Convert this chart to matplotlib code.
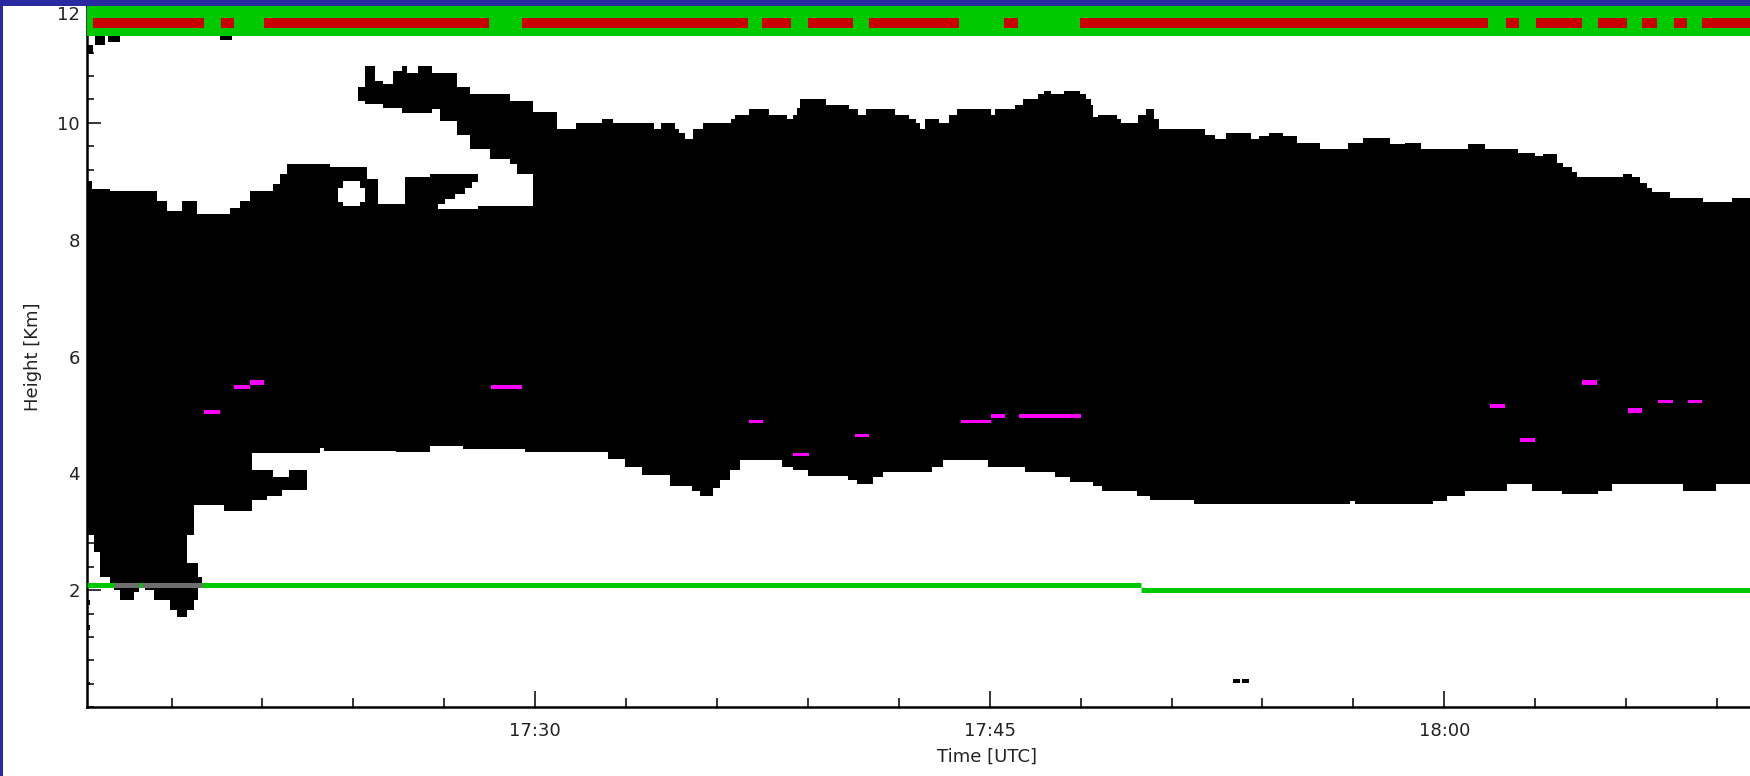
import numpy as np
import matplotlib.pyplot as plt
from matplotlib.patches import Rectangle
from matplotlib.ticker import FixedLocator, MultipleLocator, FuncFormatter

# time axis: minutes after 17:00 UTC, heights in km
t_start, t_end = 15.21, 70.75

# main cloud body: top and base heights (step profiles)
top_t = [15.21, 15.38, 15.97, 17.52, 17.85, 18.35, 18.84, 19.93, 20.26, 20.59,
         21.35, 21.58, 21.82, 23.23, 24.46, 24.82, 25.71, 26.53, 28.12, 29.93,
         30.73, 31.35, 32.21, 32.57, 33.93, 34.16, 34.62, 34.75, 34.95, 35.21,
         35.54, 36.47, 36.60, 37.06, 37.72, 38.32, 38.51, 38.65, 38.75, 39.60,
         40.36, 40.66, 40.92, 41.88, 42.34, 42.57, 42.71, 42.87, 43.33, 43.66,
         43.93, 45.05, 45.18, 45.84, 46.11, 46.60, 46.80, 47.03, 47.46, 47.99,
         48.18, 48.35, 48.42, 48.58, 49.21, 49.34, 49.90, 50.17, 50.43, 50.59,
         52.11, 52.44, 52.81, 53.63, 53.89, 54.22, 54.69, 55.15, 55.91, 56.83,
         57.33, 58.22, 58.71, 59.24, 60.79, 61.35, 62.44, 63.00, 63.27, 63.73,
         63.93, 64.22, 64.39, 65.91, 66.20, 66.47, 66.70, 66.86, 67.46, 68.55,
         69.50]
top_km = [9.00, 8.86, 8.83, 8.66, 8.49, 8.66, 8.44, 8.54, 8.66, 8.83,
          8.95, 9.12, 9.29, 9.24, 9.04, 8.61, 9.07, 9.12, 8.57, 10.18,
          9.90, 10.00, 10.07, 10.00, 9.89, 10.00, 9.89, 9.83, 9.72, 9.89,
          10.00, 10.06, 10.14, 10.24, 10.14, 10.07, 10.14, 10.26, 10.41, 10.31,
          10.24, 10.14, 10.24, 10.14, 10.07, 10.00, 9.90, 10.07, 10.00, 10.14,
          10.24, 10.14, 10.24, 10.31, 10.41, 10.49, 10.54, 10.49, 10.54, 10.49,
          10.41, 10.30, 10.10, 10.14, 10.07, 10.00, 10.14, 10.24, 10.07, 9.90,
          9.80, 9.72, 9.83, 9.72, 9.77, 9.83, 9.77, 9.66, 9.56, 9.66,
          9.74, 9.63, 9.65, 9.55, 9.63, 9.55, 9.48, 9.43, 9.46, 9.31,
          9.24, 9.15, 9.07, 9.12, 9.07, 8.97, 8.88, 8.81, 8.71, 8.64,
          8.71]

base_t = [15.21, 15.44, 15.64, 15.97, 18.51, 18.74, 19.74, 20.66, 21.16, 21.66,
          22.48, 22.90, 23.04, 25.41, 26.53, 27.62, 29.67, 32.41, 32.97, 33.53,
          34.46, 35.18, 35.45, 35.87, 36.11, 36.44, 36.77, 38.15, 38.51, 39.01,
          40.33, 40.63, 41.16, 41.49, 43.10, 43.47, 44.95, 46.17, 47.16, 47.66,
          48.42, 48.71, 49.87, 50.30, 51.75, 56.90, 57.06, 59.64, 60.10, 60.69,
          62.08, 62.90, 63.89, 65.08, 65.54, 67.89, 68.98]
base_km = [2.94, 2.65, 2.22, 2.12, 2.94, 3.45, 3.36, 3.54, 3.62, 3.71,
           4.34, 4.44, 4.39, 4.36, 4.46, 4.41, 4.36, 4.25, 4.10, 3.98,
           3.79, 3.69, 3.62, 3.75, 3.88, 4.05, 4.22, 4.10, 4.05, 3.95,
           3.88, 3.81, 3.93, 4.03, 4.10, 4.22, 4.10, 4.03, 3.93, 3.86,
           3.79, 3.69, 3.62, 3.54, 3.47, 3.52, 3.47, 3.52, 3.62, 3.69,
           3.81, 3.69, 3.64, 3.69, 3.81, 3.69, 3.81]

# detached upper layer (17:24 - 17:30)
hook_t = [24.16, 24.39, 24.72, 24.98, 25.31, 25.61, 25.78, 26.14, 26.60, 26.86,
          27.43, 27.85, 28.51, 29.17, 29.41, 29.93]
hook_lo = [10.37, 10.32, 10.32, 10.25, 10.25, 10.16, 10.16, 10.16, 10.23, 10.03,
           9.80, 9.56, 9.38, 9.29, 9.12]
hook_hi = [10.62, 10.98, 10.71, 10.66, 10.88, 10.98, 10.85, 10.98, 10.85, 10.85,
           10.62, 10.49, 10.49, 10.37, 10.37]

# cloud reaching below the boundary layer line
blob_t = [16.10, 16.30, 16.76, 16.93, 17.03, 17.13, 17.43, 17.95, 18.18, 18.51,
          18.74, 18.87, 19.01]
blob_lo = [2.00, 1.83, 1.97, 2.12, 2.05, 2.00, 1.83, 1.66, 1.54, 1.66, 1.83, 2.05]
blob_hi = [2.13, 2.13, 2.13, 2.13, 2.13, 2.13, 2.13, 2.13, 2.13, 2.46, 2.46, 2.22]

# clear gaps inside the cloud
hole_t = [23.50, 23.66, 24.23, 24.39]
hole_lo = [8.64, 8.57, 8.64]
hole_hi = [8.88, 9.00, 8.88]
pocket_t = [26.80, 27.03, 27.36, 27.69, 27.92, 28.12]
pocket_lo = [8.52, 8.52, 8.52, 8.52, 8.52]
pocket_hi = [8.61, 8.69, 8.78, 8.88, 8.98]
bay_t = [20.66, 21.35, 21.88, 22.48]
bay_lo = [4.05, 3.93, 4.05]
bay_hi = [4.34, 4.34, 4.34]

# isolated cloud pixels
speck_t0 = [15.21, 15.21, 15.21, 15.48, 15.91, 15.25, 19.60, 53.04, 53.33]
speck_t1 = [15.31, 15.31, 15.31, 15.81, 16.30, 15.41, 20.00, 53.27, 53.56]
speck_lo = [1.74, 1.32, 0.38, 11.34, 11.38, 11.17, 11.41, 0.41, 0.41]
speck_hi = [1.83, 1.40, 0.43, 11.48, 11.48, 11.34, 11.48, 0.48, 0.48]

# magenta cells
mag_t0 = [19.08, 20.07, 20.59, 28.55, 37.06, 38.51, 40.56, 44.06, 45.05, 45.97,
          61.52, 62.51, 64.55, 66.07, 67.06, 68.05]
mag_t1 = [19.60, 20.59, 21.06, 29.57, 37.52, 39.04, 41.02, 45.05, 45.51, 48.02,
          62.01, 63.00, 65.05, 66.53, 67.56, 68.51]
mag_lo = [5.02, 5.45, 5.52, 5.45, 4.87, 4.29, 4.63, 4.87, 4.94, 4.94,
          5.11, 4.53, 5.52, 5.04, 5.21, 5.21]
mag_hi = [5.09, 5.52, 5.60, 5.52, 4.92, 4.34, 4.68, 4.92, 5.02, 5.02,
          5.19, 4.61, 5.60, 5.11, 5.26, 5.26]

# flag strip on top: green band, red where flagged
flag_lo, flag_hi = 11.48, 12.0
rain_lo, rain_hi = 11.63, 11.80
rain_t0 = [15.41, 19.64, 21.06, 29.57, 37.49, 39.01, 41.02, 45.48, 47.99, 62.05,
           63.04, 65.08, 66.53, 67.59, 68.51]
rain_t1 = [19.08, 20.07, 28.48, 37.03, 38.45, 40.50, 43.99, 45.94, 61.45, 62.48,
           64.55, 66.04, 67.03, 68.02, 70.75]

# boundary layer height line
bl_t = [15.21, 50.0, 70.75]
bl_km = [2.09, 2.00]
gray_t0 = [16.10, 17.03]
gray_t1 = [16.93, 19.01]


def step_at(tb, vals, t):
    idx = np.searchsorted(tb, t, side='right') - 1
    return np.asarray(vals)[np.clip(idx, 0, len(vals) - 1)]


def step_fill(ax, t, lo, hi, color, z):
    lo = np.append(lo, lo[-1])
    hi = np.append(hi, hi[-1])
    ax.fill_between(t, lo, hi, step='post', color=color, lw=0, zorder=z)


fig = plt.figure(figsize=(17.5, 7.76), dpi=100)
ax = fig.add_axes([87 / 1750, 69 / 776, 1683 / 1750, 701 / 776])

# main cloud
grid = np.append(np.union1d(top_t, base_t), t_end)
ax.fill_between(grid, step_at(base_t, base_km, grid), step_at(top_t, top_km, grid),
                step='post', color='black', lw=0, zorder=1)
step_fill(ax, hook_t, hook_lo, hook_hi, 'black', 1)
step_fill(ax, blob_t, blob_lo, blob_hi, 'black', 1)
for t, lo, hi in [(hole_t, hole_lo, hole_hi), (pocket_t, pocket_lo, pocket_hi),
                  (bay_t, bay_lo, bay_hi)]:
    step_fill(ax, t, lo, hi, 'white', 2)

ax.bar(speck_t0, np.subtract(speck_hi, speck_lo), width=np.subtract(speck_t1, speck_t0),
       bottom=speck_lo, align='edge', color='black', lw=0, zorder=2)
ax.bar(mag_t0, np.subtract(mag_hi, mag_lo), width=np.subtract(mag_t1, mag_t0),
       bottom=mag_lo, align='edge', color='#ff00ff', lw=0, zorder=3)

# flag strip
ax.axhspan(flag_lo, flag_hi, color='#00c800', lw=0, zorder=3)
ax.bar(rain_t0, rain_hi - rain_lo, width=np.subtract(rain_t1, rain_t0),
       bottom=rain_lo, align='edge', color='#c80000', lw=0, zorder=4)

# boundary layer line
ax.hlines(bl_km, bl_t[:-1], bl_t[1:], colors='#00c800', lw=3.6, zorder=5)
ax.hlines([bl_km[0]] * len(gray_t0), gray_t0, gray_t1, colors='#6e6e6e', lw=3.6, zorder=6)

ax.set_xlim(t_start, t_end)
ax.set_ylim(0, 12)

ax.xaxis.set_major_locator(FixedLocator([30, 45, 60]))
ax.xaxis.set_minor_locator(MultipleLocator(3))
ax.xaxis.set_major_formatter(FuncFormatter(
    lambda m, p: f"{17 + int(round(m)) // 60}:{int(round(m)) % 60:02d}"))
ax.yaxis.set_major_locator(FixedLocator([2, 4, 6, 8, 10, 12]))
ax.yaxis.set_minor_locator(MultipleLocator(0.4))

ax.tick_params(axis='both', which='both', direction='in', top=True, right=False,
               width=1.1, labelsize=13, labelcolor='#222222')
ax.tick_params(axis='x', which='major', length=11.5, pad=10.5)
ax.tick_params(axis='x', which='minor', length=6.5)
ax.tick_params(axis='y', which='major', length=10, pad=5)
ax.tick_params(axis='y', which='minor', length=5)
for s in ax.spines.values():
    s.set_linewidth(1.8)
ax.spines['right'].set_visible(False)

ax.set_xlabel('Time [UTC]', fontsize=13, color='#222222')
ax.xaxis.set_label_coords(0.5348, -0.0585)
ax.set_ylabel('Height [Km]', fontsize=13, color='#222222')
ax.yaxis.set_label_coords(-0.0267, 0.5)

fig.canvas.draw()
ax.yaxis.get_major_ticks()[-1].label1.set_verticalalignment('top')

# dark blue frame of the screenshot
blue = '#2a2aa0'
fig.add_artist(Rectangle((0, 0), 3 / 1750, 1, transform=fig.transFigure,
                         color=blue, lw=0, zorder=10))
fig.add_artist(Rectangle((0, 1 - 6 / 776), 1, 6 / 776, transform=fig.transFigure,
                         color=blue, lw=0, zorder=10))

fig.savefig('out.png', dpi=100)
